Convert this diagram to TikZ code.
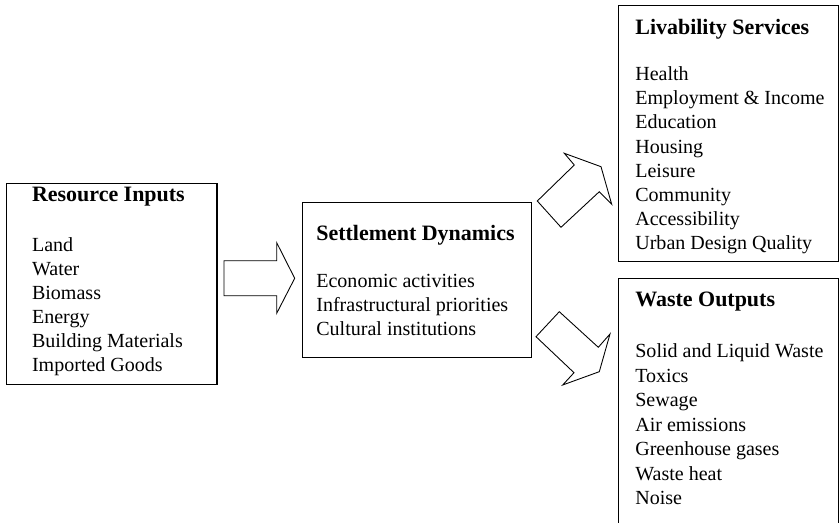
\documentclass[tikz,border=0pt]{standalone}
\usepackage{fontspec}
\setmainfont{Liberation Serif}
\usetikzlibrary{positioning}

\begin{document}
\begin{tikzpicture}[x=0.02cm,y=-0.02cm,
    every node/.style={font=\fontsize{11.4}{13.7}\selectfont,inner sep=0pt},
    box/.style={draw,line width=0.6pt,anchor=north west},
    head/.style={anchor=base west,font=\fontsize{12.5}{15}\selectfont\bfseries},
    item/.style={anchor=base west},
    blockarrow/.style={draw,line width=0.5pt,line join=miter},
  ]
  \useasboundingbox (0,0) rectangle (839,523);
  \clip (0,0) rectangle (839,523);

  % the four boxes
  \node[box,minimum width=4.21cm,minimum height=4.026cm]  (res) at (6,182.7) {};
  \node[box,minimum width=4.574cm,minimum height=3.094cm] (set) at (302,202) {};
  \node[box,minimum width=4.4cm,minimum height=5.114cm]   (liv) at (618.3,5) {};
  \node[box,minimum width=4.4cm,minimum height=5.634cm]   (wst) at (618.3,278.3) {};

  % box contents
  \node[head] (res-title) at (31.7,202) {Resource Inputs};
  \foreach \t [count=\i from 0] in {Land,Water,Biomass,Energy,Building Materials,Imported Goods}
    \node[item] (res-\i) at (31.7,{252+24*\i}) {\t};

  \node[head] (set-title) at (316,241) {Settlement Dynamics};
  \foreach \t [count=\i from 0] in {Economic activities,Infrastructural priorities,Cultural institutions}
    \node[item] (set-\i) at (316,{288+24*\i}) {\t};

  \node[head] (liv-title) at (635,35) {Livability Services};
  \foreach \t [count=\i from 0] in {Health,Employment \& Income,Education,Housing,Leisure,Community,Accessibility,Urban Design Quality}
    \node[item] (liv-\i) at (635,{80.5+24.2*\i}) {\t};

  \node[head] (wst-title) at (635,307) {Waste Outputs};
  \foreach \t [count=\i from 0] in {Solid and Liquid Waste,Toxics,Sewage,Air emissions,Greenhouse gases,Waste heat,Noise}
    \node[item] (wst-\i) at (635,{358+24.5*\i}) {\t};

  % block arrows
  \draw[blockarrow] (224,260.7) -- (276.7,260.7) -- (276.7,242.7) -- (294.7,278.3)
    -- (276.7,313.3) -- (276.7,295.7) -- (224,295.7) -- cycle;
  \draw[blockarrow] (537.3,201) -- (574.3,165) -- (564.3,153.3) -- (601,166.7)
    -- (611.7,204.3) -- (599.3,191.7) -- (561,227.3) -- cycle;
  \draw[blockarrow] (536,336.7) -- (559.3,311.7) -- (598.3,347.3) -- (610,334)
    -- (599.3,371.7) -- (562.7,385) -- (574,372.7) -- cycle;
\end{tikzpicture}
\end{document}
